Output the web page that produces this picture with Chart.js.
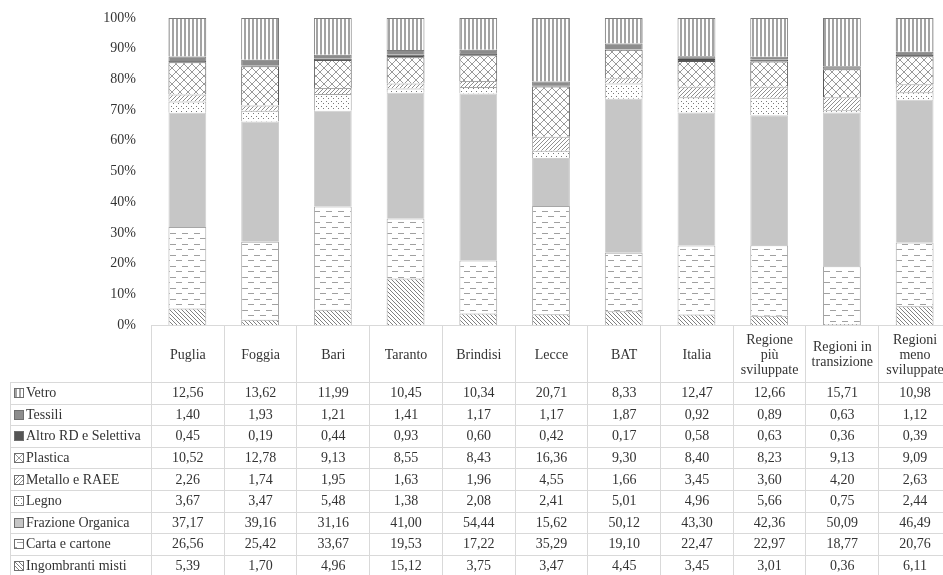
<!DOCTYPE html>
<html><head>
<meta charset="UTF-8">
<title>Raccolta differenziata per frazione</title>
<script src="https://cdn.jsdelivr.net/npm/chart.js@4"></script>
<style>
  html, body { margin: 0; padding: 0; background: #fff; width: 943px; height: 575px; overflow: hidden; }
  #wrap { position: absolute; left: 0; top: 0; width: 960px; height: 575px; }
  #tbl { position: absolute; left: 10px; top: 325px; border-collapse: collapse; table-layout: fixed;
         font-family: 'Liberation Serif', 'Times New Roman', serif; font-size: 14px; color: #333333; }
  #tbl td, #tbl th { border: 1px solid #d9d9d9; padding: 0; text-align: center; font-weight: normal;
                     white-space: nowrap; overflow: hidden; }
  #tbl thead th { height: 56px; line-height: 15px; }
  #tbl thead th.blank { border-top: none; border-left: none; }
  #tbl tbody td { height: 20.6px; line-height: 20px; }
  #tbl tbody td.lab { text-align: left; padding-left: 3px; }
  .key { display: inline-block; width: 8px; height: 8px; border: 1px solid #6f6f6f; margin-right: 2px;
         vertical-align: -1px; background-repeat: repeat; }
</style>
</head><body>
<div id="wrap"><canvas id="c" width="960" height="575"></canvas></div>
<table id="tbl"></table>
<script>
  const categories = [['Puglia'], ['Foggia'], ['Bari'], ['Taranto'], ['Brindisi'], ['Lecce'], ['BAT'], ['Italia'],
    ['Regione', 'più', 'sviluppate'], ['Regioni in', 'transizione'], ['Regioni', 'meno', 'sviluppate']];

  const vetro       = [12.56, 13.62, 11.99, 10.45, 10.34, 20.71, 8.33, 12.47, 12.66, 15.71, 10.98];
  const tessili     = [1.40, 1.93, 1.21, 1.41, 1.17, 1.17, 1.87, 0.92, 0.89, 0.63, 1.12];
  const altroRD     = [0.45, 0.19, 0.44, 0.93, 0.60, 0.42, 0.17, 0.58, 0.63, 0.36, 0.39];
  const plastica    = [10.52, 12.78, 9.13, 8.55, 8.43, 16.36, 9.30, 8.40, 8.23, 9.13, 9.09];
  const metallo     = [2.26, 1.74, 1.95, 1.63, 1.96, 4.55, 1.66, 3.45, 3.60, 4.20, 2.63];
  const legno       = [3.67, 3.47, 5.48, 1.38, 2.08, 2.41, 5.01, 4.96, 5.66, 0.75, 2.44];
  const organica    = [37.17, 39.16, 31.16, 41.00, 54.44, 15.62, 50.12, 43.30, 42.36, 50.09, 46.49];
  const carta       = [26.56, 25.42, 33.67, 19.53, 17.22, 35.29, 19.10, 22.47, 22.97, 18.77, 20.76];
  const ingombranti = [5.39, 1.70, 4.96, 15.12, 3.75, 3.47, 4.45, 3.45, 3.01, 0.36, 6.11];

  // small tiles used as fill patterns (bars) and as table keys
  function tile(w, h, draw) {
    const c = document.createElement('canvas');
    c.width = w; c.height = h;
    const g = c.getContext('2d');
    g.fillStyle = '#ffffff'; g.fillRect(0, 0, w, h);
    draw(g);
    return c;
  }
  const solid = col => tile(4, 4, g => { g.fillStyle = col; g.fillRect(0, 0, 4, 4); });

  const tiles = {
    vetro: tile(4, 4, g => { g.fillStyle = '#a3a3a3'; g.fillRect(0, 0, 2, 4); }),
    tessili: solid('#8c8c8c'),
    altro: solid('#555555'),
    plastica: tile(8, 8, g => { g.fillStyle = '#9a9a9a'; for (let i = 0; i < 8; i++) { g.fillRect(i, i, 1, 1); g.fillRect(7 - i, i, 1, 1); } }),
    metallo: tile(4, 4, g => { g.fillStyle = '#8f8f8f'; for (let i = 0; i < 4; i++) g.fillRect(3 - i, i, 1, 1); }),
    legno: tile(5, 5, g => { g.fillStyle = '#7a7a7a'; g.fillRect(1, 1, 1, 1); g.fillRect(3, 3, 1, 1); }),
    organica: solid('#c6c6c6'),
    carta: tile(12, 11, g => { g.fillStyle = '#a0a0a0'; g.fillRect(2, 2, 6, 1); g.fillRect(8, 7, 4, 1); g.fillRect(0, 7, 2, 1); }),
    ingombranti: tile(4, 4, g => { g.fillStyle = '#808080'; for (let i = 0; i < 4; i++) g.fillRect(i, i, 1, 1); })
  };
  const ctx = document.getElementById('c').getContext('2d');
  const pat = t => ctx.createPattern(tiles[t], 'repeat');

  // table order (top to bottom) = reverse of stacking order
  const series = [
    { label: 'Vetro', data: vetro, t: 'vetro', border: '#7a7a7a' },
    { label: 'Tessili', data: tessili, t: 'tessili', border: '#7a7a7a' },
    { label: 'Altro RD e Selettiva', data: altroRD, t: 'altro', border: '#4a4a4a' },
    { label: 'Plastica', data: plastica, t: 'plastica', border: '#5a5a5a' },
    { label: 'Metallo e RAEE', data: metallo, t: 'metallo', border: '#a6a6a6' },
    { label: 'Legno', data: legno, t: 'legno', border: '#a6a6a6' },
    { label: 'Frazione Organica', data: organica, t: 'organica', border: '#cfcfcf' },
    { label: 'Carta e cartone', data: carta, t: 'carta', border: '#a6a6a6' },
    { label: 'Ingombranti misti', data: ingombranti, t: 'ingombranti', border: '#a6a6a6' }
  ];

  const chart = new Chart(ctx, {
    type: 'bar',
    data: {
      labels: categories,
      datasets: series.slice().reverse().map(s => ({
        label: s.label,
        data: s.data,
        backgroundColor: pat(s.t),
        borderColor: s.border,
        borderWidth: 1,
        categoryPercentage: 0.52,
        barPercentage: 1
      }))
    },
    options: {
      responsive: false,
      animation: false,
      layout: { padding: { left: 0, top: 18, right: 9, bottom: 250 } },
      plugins: { legend: { display: false }, tooltip: { enabled: false } },
      scales: {
        x: { stacked: true, display: false },
        y: {
          stacked: true, min: 0, max: 100,
          afterFit: s => { s.width = 151; s.paddingTop = 0; s.paddingBottom = 0; },
          grid: { display: false, drawTicks: false },
          border: { display: false },
          ticks: {
            stepSize: 10, padding: 15, color: '#333333',
            font: { family: "'Liberation Serif', serif", size: 14 },
            callback: v => v + '%'
          }
        }
      }
    }
  });

  // data table aligned to the chart's category columns
  const area = chart.chartArea;
  const colW = (area.right - area.left) / categories.length;
  let html = '<colgroup><col style="width:' + (area.left - 10) + 'px">';
  categories.forEach(() => { html += '<col style="width:' + colW + 'px">'; });
  html += '</colgroup><thead><tr><th class="blank"></th>';
  categories.forEach(c => { html += '<th>' + c.join('<br>') + '</th>'; });
  html += '</tr></thead><tbody>';
  series.forEach(s => {
    html += '<tr><td class="lab"><span class="key" style="background-image:url(' + tiles[s.t].toDataURL() + ')"></span>' + s.label + '</td>';
    s.data.forEach(v => { html += '<td>' + v.toFixed(2).replace('.', ',') + '</td>'; });
    html += '</tr>';
  });
  html += '</tbody>';
  const tbl = document.getElementById('tbl');
  tbl.innerHTML = html;
  tbl.style.width = (area.right - 10) + 'px';
</script>
</body></html>
